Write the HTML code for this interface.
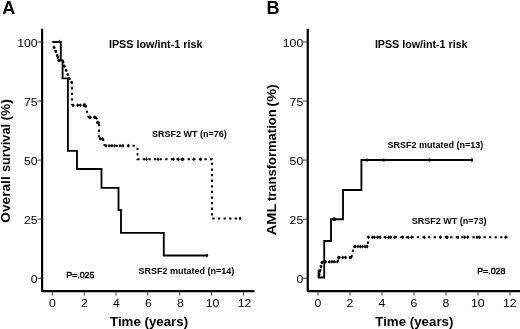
<!DOCTYPE html>
<html><head><meta charset="utf-8"><title>Figure</title>
<style>
html,body{margin:0;padding:0;background:#fff;}
body{width:520px;height:329px;overflow:hidden;}
svg{display:block;}
text{font-family:"Liberation Sans",Arial,sans-serif;fill:#000;}
.tk{font-size:11.8px;}
.pl{font-size:18px;font-weight:bold;}
.tt{font-size:10.8px;font-weight:bold;}
.al{font-size:13.3px;font-weight:bold;}
.yl1{font-size:14.5px;}
.yl2{font-size:14.5px;}
.lg{font-size:9px;font-weight:bold;}
.pv{font-size:9.7px;stroke:#000;stroke-width:0.45px;}
</style></head><body>
<svg width="520" height="329" viewBox="0 0 520 329">
<rect width="520" height="329" fill="#fff"/>
<g fill="#000">
<path d="M42.1,28.8 V291.05 H254.5" fill="none" stroke="#000" stroke-width="2.2" stroke-linejoin="round"/><rect x="37.300000000000004" y="41.55" width="4" height="0.9" fill="#333"/><text transform="translate(37.6,46.60) scale(1.04,1)" text-anchor="end" class="tk">100</text><rect x="37.300000000000004" y="100.60" width="4" height="0.9" fill="#333"/><text transform="translate(37.6,105.65) scale(1.04,1)" text-anchor="end" class="tk">75</text><rect x="37.300000000000004" y="159.65" width="4" height="0.9" fill="#333"/><text transform="translate(37.6,164.70) scale(1.04,1)" text-anchor="end" class="tk">50</text><rect x="37.300000000000004" y="218.70" width="4" height="0.9" fill="#333"/><text transform="translate(37.6,223.75) scale(1.04,1)" text-anchor="end" class="tk">25</text><rect x="37.300000000000004" y="277.75" width="4" height="0.9" fill="#333"/><text transform="translate(37.6,282.80) scale(1.04,1)" text-anchor="end" class="tk">0</text><rect x="51.85" y="292" width="0.9" height="3.7" fill="#333"/><text transform="translate(52.5,306.6) scale(1.04,1)" text-anchor="middle" class="tk">0</text><rect x="83.71" y="292" width="0.9" height="3.7" fill="#333"/><text transform="translate(84.5,306.6) scale(1.04,1)" text-anchor="middle" class="tk">2</text><rect x="115.57" y="292" width="0.9" height="3.7" fill="#333"/><text transform="translate(116.5,306.6) scale(1.04,1)" text-anchor="middle" class="tk">4</text><rect x="147.43" y="292" width="0.9" height="3.7" fill="#333"/><text transform="translate(148.5,306.6) scale(1.04,1)" text-anchor="middle" class="tk">6</text><rect x="179.29" y="292" width="0.9" height="3.7" fill="#333"/><text transform="translate(180.5,306.6) scale(1.04,1)" text-anchor="middle" class="tk">8</text><rect x="211.15" y="292" width="0.9" height="3.7" fill="#333"/><text transform="translate(212.5,306.6) scale(1.04,1)" text-anchor="middle" class="tk">10</text><rect x="243.01" y="292" width="0.9" height="3.7" fill="#333"/><text transform="translate(244.5,306.6) scale(1.04,1)" text-anchor="middle" class="tk">12</text>
<path d="M307.75,28.8 V291.05 H520" fill="none" stroke="#000" stroke-width="2.2" stroke-linejoin="round"/><rect x="302.95" y="41.55" width="4" height="0.9" fill="#333"/><text transform="translate(303.25,46.60) scale(1.04,1)" text-anchor="end" class="tk">100</text><rect x="302.95" y="100.60" width="4" height="0.9" fill="#333"/><text transform="translate(303.25,105.65) scale(1.04,1)" text-anchor="end" class="tk">75</text><rect x="302.95" y="159.65" width="4" height="0.9" fill="#333"/><text transform="translate(303.25,164.70) scale(1.04,1)" text-anchor="end" class="tk">50</text><rect x="302.95" y="218.70" width="4" height="0.9" fill="#333"/><text transform="translate(303.25,223.75) scale(1.04,1)" text-anchor="end" class="tk">25</text><rect x="302.95" y="277.75" width="4" height="0.9" fill="#333"/><text transform="translate(303.25,282.80) scale(1.04,1)" text-anchor="end" class="tk">0</text><rect x="317.55" y="292" width="0.9" height="3.7" fill="#333"/><text transform="translate(317.8,306.6) scale(1.04,1)" text-anchor="middle" class="tk">0</text><rect x="349.55" y="292" width="0.9" height="3.7" fill="#333"/><text transform="translate(349.8,306.6) scale(1.04,1)" text-anchor="middle" class="tk">2</text><rect x="381.55" y="292" width="0.9" height="3.7" fill="#333"/><text transform="translate(381.8,306.6) scale(1.04,1)" text-anchor="middle" class="tk">4</text><rect x="413.55" y="292" width="0.9" height="3.7" fill="#333"/><text transform="translate(413.8,306.6) scale(1.04,1)" text-anchor="middle" class="tk">6</text><rect x="445.55" y="292" width="0.9" height="3.7" fill="#333"/><text transform="translate(445.8,306.6) scale(1.04,1)" text-anchor="middle" class="tk">8</text><rect x="477.55" y="292" width="0.9" height="3.7" fill="#333"/><text transform="translate(477.8,306.6) scale(1.04,1)" text-anchor="middle" class="tk">10</text><rect x="509.55" y="292" width="0.9" height="3.7" fill="#333"/><text transform="translate(509.8,306.6) scale(1.04,1)" text-anchor="middle" class="tk">12</text>
</g>
<text x="2.3" y="14" class="pl">A</text>
<text x="266.4" y="14" class="pl">B</text>
<text x="108.9" y="48" class="tt">IPSS low/int-1 risk</text>
<text x="374.9" y="48" class="tt" style="font-size:10.7px">IPSS low/int-1 risk</text>
<text x="110" y="325.8" class="al">Time (years)</text>
<text x="375.3" y="325.8" class="al">Time (years)</text>
<text transform="translate(10.0,222.70) rotate(-90)" textLength="46.43" lengthAdjust="spacingAndGlyphs" class="al" style="font-size:13.5px">Overall</text>
<text transform="translate(10.0,172.00) rotate(-90)" textLength="48.03" lengthAdjust="spacingAndGlyphs" class="al" style="font-size:13.5px">survival</text>
<text transform="translate(10.0,120.50) rotate(-90)" textLength="21.33" lengthAdjust="spacingAndGlyphs" class="al" style="font-size:13.5px">(%)</text>
<text transform="translate(276.1,235.30) rotate(-90)" textLength="31.73" lengthAdjust="spacingAndGlyphs" class="al" style="font-size:13.5px">AML</text>
<text transform="translate(276.1,201.10) rotate(-90)" textLength="91.73" lengthAdjust="spacingAndGlyphs" class="al" style="font-size:13.5px">transformation</text>
<text transform="translate(276.1,106.70) rotate(-90)" textLength="22.63" lengthAdjust="spacingAndGlyphs" class="al" style="font-size:13.5px">(%)</text>
<text x="152" y="137.4" class="lg">SRSF2 WT (n=76)</text>
<text x="138.6" y="273.7" class="lg">SRSF2 mutated (n=14)</text>
<text transform="translate(66.2,277.5) scale(0.913,1)" class="pv">P=.025</text>
<text x="387.6" y="148.4" class="lg">SRSF2 mutated (n=13)</text>
<text x="411.8" y="224.3" class="lg">SRSF2 WT (n=73)</text>
<text transform="translate(477.2,273.6) scale(0.913,1)" class="pv">P=.028</text>
<path fill="none" stroke="#000" stroke-width="1.85" stroke-linejoin="miter" d="M52.3,42 H60.8 V60.3 H62.6 V78.3 H67.9 V150.8 H77 V169 H101.5 V187.8 H118.5 V210 H121 V232.9 H163.8 V255.5 H207.5"/>
<path fill="none" stroke="#000" stroke-width="2.5" stroke-dasharray="2.8 1.6" stroke-dashoffset="0" d="M53.6,46 L57.6,56"/><path fill="none" stroke="#000" stroke-width="2.5" stroke-dasharray="2.8 1.6" stroke-dashoffset="0" d="M57.6,56 L58.5,60.5"/>
<path fill="none" stroke="#000" stroke-width="2.3" stroke-dasharray="2.6 1.9" stroke-dashoffset="0" d="M58,60.5 L62.8,60.5"/><path fill="none" stroke="#000" stroke-width="2.3" stroke-dasharray="2.6 1.9" stroke-dashoffset="0" d="M62.8,60.5 L64,65"/><path fill="none" stroke="#000" stroke-width="2.3" stroke-dasharray="2.6 1.9" stroke-dashoffset="0" d="M64,65 L68.9,77.4"/><path fill="none" stroke="#000" stroke-width="2.3" stroke-dasharray="2.6 1.9" stroke-dashoffset="0" d="M68.9,77.4 L71.8,83"/>
<path fill="none" stroke="#000" stroke-width="1.9" stroke-dasharray="2.3 3.3" stroke-dashoffset="0" d="M72,81.5 L72,105.2"/><path fill="none" stroke="#000" stroke-width="1.9" stroke-dasharray="2.3 3.3" stroke-dashoffset="0" d="M72,105.2 L85.5,105.2"/><path fill="none" stroke="#000" stroke-width="1.9" stroke-dasharray="2.3 3.3" stroke-dashoffset="0" d="M85.5,105.2 L88.3,117.2"/><path fill="none" stroke="#000" stroke-width="1.9" stroke-dasharray="2.3 3.3" stroke-dashoffset="0" d="M88.3,117.2 L96,117.2"/><path fill="none" stroke="#000" stroke-width="1.9" stroke-dasharray="2.3 3.3" stroke-dashoffset="0" d="M96,117.2 L99,124"/><path fill="none" stroke="#000" stroke-width="1.9" stroke-dasharray="2.3 3.3" stroke-dashoffset="0" d="M99,124 L99,138.8"/><path fill="none" stroke="#000" stroke-width="1.9" stroke-dasharray="2.3 3.3" stroke-dashoffset="0" d="M99,138.8 L103,138.8"/><path fill="none" stroke="#000" stroke-width="1.9" stroke-dasharray="2.3 3.3" stroke-dashoffset="0" d="M103,138.8 L104.5,145.8"/>
<path fill="none" stroke="#000" stroke-width="1.9" stroke-dasharray="2.3 3.3" d="M104.5,145.8 H137.5"/>
<path fill="none" stroke="#000" stroke-width="1.9" stroke-dasharray="2.3 3.3" d="M137.5,147.7 V159.2 H212 V218.5 H241"/>
<g fill="#000">
<path d="M58.90,41.2 L59.6,39.40 L60.30,41.2 L59.6,43.00Z"/>
<path d="M205.90,255.5 L207,253.30 L208.10,255.5 L207,257.70Z"/>
<path d="M71.60,105.2 L73,103.20 L74.40,105.2 L73,107.20Z"/><path d="M76.10,105.2 L77.5,103.20 L78.90,105.2 L77.5,107.20Z"/><path d="M79.10,105.2 L80.5,103.20 L81.90,105.2 L80.5,107.20Z"/>
<circle cx="84.5" cy="105.2" r="1.9"/>
<circle cx="89.8" cy="117.2" r="1.7"/><circle cx="94.8" cy="117.2" r="1.7"/>
<circle cx="97.7" cy="122.5" r="1.7"/>
<path d="M99.10,138.8 L100.5,136.80 L101.90,138.8 L100.5,140.80Z"/><path d="M101.10,138.8 L102.5,136.80 L103.90,138.8 L102.5,140.80Z"/>
<path d="M104.60,145.8 L106,143.80 L107.40,145.8 L106,147.80Z"/><path d="M107.60,145.8 L109,143.80 L110.40,145.8 L109,147.80Z"/><path d="M110.60,145.8 L112,143.80 L113.40,145.8 L112,147.80Z"/><path d="M113.20,145.8 L114.6,143.80 L116.00,145.8 L114.6,147.80Z"/><path d="M118.60,145.8 L120,143.80 L121.40,145.8 L120,147.80Z"/><path d="M121.60,145.8 L123,143.80 L124.40,145.8 L123,147.80Z"/><path d="M127.10,145.8 L128.5,143.80 L129.90,145.8 L128.5,147.80Z"/>
<path d="M145.10,159.2 L146.5,157.20 L147.90,159.2 L146.5,161.20Z"/><path d="M156.60,159.2 L158,157.20 L159.40,159.2 L158,161.20Z"/><path d="M172.10,159.2 L173.5,157.20 L174.90,159.2 L173.5,161.20Z"/><path d="M177.10,159.2 L178.5,157.20 L179.90,159.2 L178.5,161.20Z"/><path d="M192.10,159.2 L193.5,157.20 L194.90,159.2 L193.5,161.20Z"/><path d="M199.40,159.2 L200.8,157.20 L202.20,159.2 L200.8,161.20Z"/>
<circle cx="182.3" cy="159.2" r="1.8"/>
<path d="M238.60,218.5 L240,216.50 L241.40,218.5 L240,220.50Z"/>
<circle cx="58.5" cy="60.5" r="1.3"/>
</g>
<path fill="none" stroke="#000" stroke-width="1.85" stroke-linejoin="miter" d="M318.6,270 V277.5 H324.2 V241 H331 V219.2 H343 V190 H361.4 V160 H472.5"/>
<path fill="none" stroke="#000" stroke-width="2.2" stroke-dasharray="2.2 2.2" stroke-dashoffset="0" d="M318.9,276.5 L322.3,261.7"/>
<path fill="none" stroke="#000" stroke-width="1.9" stroke-dasharray="2.3 3.3" stroke-dashoffset="0" d="M322.3,261.7 L338,261.7"/><path fill="none" stroke="#000" stroke-width="1.9" stroke-dasharray="2.3 3.3" stroke-dashoffset="0" d="M338,261.7 L338,257.4"/><path fill="none" stroke="#000" stroke-width="1.9" stroke-dasharray="2.3 3.3" stroke-dashoffset="0" d="M338,257.4 L351.5,257.4"/><path fill="none" stroke="#000" stroke-width="1.9" stroke-dasharray="2.3 3.3" stroke-dashoffset="0" d="M351.5,257.4 L353.7,246.6"/><path fill="none" stroke="#000" stroke-width="1.9" stroke-dasharray="2.3 3.3" stroke-dashoffset="0" d="M353.7,246.6 L368,246.6"/>
<path fill="none" stroke="#000" stroke-width="1.9" stroke-dasharray="2.3 3.25" d="M368,243.8 V237.2 H507.5"/>
<g fill="#000">
<circle cx="334.2" cy="219.2" r="1.9"/>
<path d="M428.20,160 L429.5,157.60 L430.80,160 L429.5,162.40Z"/><path d="M470.70,160 L472,157.60 L473.30,160 L472,162.40Z"/>
<circle cx="367" cy="160" r="1.6"/><circle cx="383.8" cy="160" r="1.6"/>
<path d="M324.40,261.7 L325.8,259.70 L327.20,261.7 L325.8,263.70Z"/><path d="M328.20,261.7 L329.6,259.70 L331.00,261.7 L329.6,263.70Z"/><path d="M330.60,261.7 L332,259.70 L333.40,261.7 L332,263.70Z"/><path d="M332.80,261.7 L334.2,259.70 L335.60,261.7 L334.2,263.70Z"/><path d="M335.90,261.7 L337.3,259.70 L338.70,261.7 L337.3,263.70Z"/>
<path d="M341.30,257.4 L342.7,255.40 L344.10,257.4 L342.7,259.40Z"/><path d="M344.40,257.4 L345.8,255.40 L347.20,257.4 L345.8,259.40Z"/>
<circle cx="338.8" cy="257.4" r="1.7"/><circle cx="350.4" cy="257.4" r="1.7"/>
<path d="M356.60,246.6 L358,244.60 L359.40,246.6 L358,248.60Z"/><path d="M359.00,246.6 L360.4,244.60 L361.80,246.6 L360.4,248.60Z"/><path d="M361.30,246.6 L362.7,244.60 L364.10,246.6 L362.7,248.60Z"/><path d="M363.60,246.6 L365,244.60 L366.40,246.6 L365,248.60Z"/><path d="M365.90,246.6 L367.3,244.60 L368.70,246.6 L367.3,248.60Z"/>
<circle cx="355" cy="246.6" r="1.7"/>
<path d="M367.20,237.2 L368.6,235.20 L370.00,237.2 L368.6,239.20Z"/><path d="M370.90,237.2 L372.3,235.20 L373.70,237.2 L372.3,239.20Z"/><path d="M373.10,237.2 L374.5,235.20 L375.90,237.2 L374.5,239.20Z"/><path d="M375.90,237.2 L377.3,235.20 L378.70,237.2 L377.3,239.20Z"/><path d="M378.80,237.2 L380.2,235.20 L381.60,237.2 L380.2,239.20Z"/><path d="M384.10,237.2 L385.5,235.20 L386.90,237.2 L385.5,239.20Z"/><path d="M387.10,237.2 L388.5,235.20 L389.90,237.2 L388.5,239.20Z"/><path d="M389.30,237.2 L390.7,235.20 L392.10,237.2 L390.7,239.20Z"/><path d="M393.10,237.2 L394.5,235.20 L395.90,237.2 L394.5,239.20Z"/><path d="M401.40,237.2 L402.8,235.20 L404.20,237.2 L402.8,239.20Z"/><path d="M406.90,237.2 L408.3,235.20 L409.70,237.2 L408.3,239.20Z"/><path d="M410.10,237.2 L411.5,235.20 L412.90,237.2 L411.5,239.20Z"/><path d="M422.90,237.2 L424.3,235.20 L425.70,237.2 L424.3,239.20Z"/><path d="M439.20,237.2 L440.6,235.20 L442.00,237.2 L440.6,239.20Z"/><path d="M456.60,237.2 L458,235.20 L459.40,237.2 L458,239.20Z"/><path d="M463.40,237.2 L464.8,235.20 L466.20,237.2 L464.8,239.20Z"/><path d="M466.10,237.2 L467.5,235.20 L468.90,237.2 L467.5,239.20Z"/><path d="M475.60,237.2 L477,235.20 L478.40,237.2 L477,239.20Z"/><path d="M478.20,237.2 L479.6,235.20 L481.00,237.2 L479.6,239.20Z"/><path d="M504.10,237.2 L505.5,235.20 L506.90,237.2 L505.5,239.20Z"/>
<circle cx="446.8" cy="237.2" r="1.7"/>
<circle cx="319.3" cy="274" r="1.2"/>
<circle cx="320" cy="270" r="1.2"/>
<circle cx="320.8" cy="266" r="1.2"/>
<circle cx="321.8" cy="262.5" r="1.2"/>
</g>
</svg>
</body></html>
